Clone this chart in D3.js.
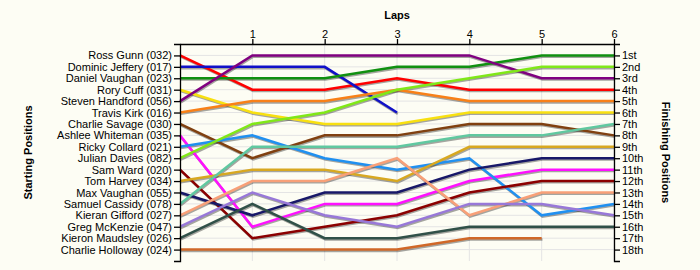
<!DOCTYPE html>
<html>
<head>
<meta charset="utf-8">
<script src="https://cdn.jsdelivr.net/npm/d3@7"></script>
<style>
  body { margin: 0; background: #fdfdf4; }
  svg { display: block; font-family: "Liberation Sans", Arial, sans-serif; }
</style>
</head>
<body>
<svg></svg>
<script>
var drivers = [
  "Ross Gunn (032)", "Dominic Jeffery (017)", "Daniel Vaughan (023)", "Rory Cuff (031)",
  "Steven Handford (056)", "Travis Kirk (016)", "Charlie Savage (030)", "Ashlee Whiteman (035)",
  "Ricky Collard (021)", "Julian Davies (082)", "Sam Ward (020)", "Tom Harvey (034)",
  "Max Vaughan (055)", "Samuel Cassidy (078)", "Kieran Gifford (027)", "Greg McKenzie (047)",
  "Kieron Maudsley (026)", "Charlie Holloway (024)"
];

var colors = [
  "#ff0000", "#1010c8", "#109010", "#f8e010",
  "#800080", "#f88018", "#804010", "#ff10ff",
  "#2090f0", "#80e818", "#8b0000", "#d8a820",
  "#181868", "#60c8a0", "#f8a078", "#9878d8",
  "#305048", "#d06828"
];

// position of each driver at lap 0..6 (null = not running)
var positions = [
  [1, 4, 4, 3, 4, 4, 4],
  [2, 2, 2, 6, null, null, null],
  [3, 3, 3, 2, 2, 1, 1],
  [4, 6, 7, 7, 6, 6, 6],
  [5, 1, 1, 1, 1, 3, 3],
  [6, 5, 5, 4, 5, 5, 5],
  [7, 10, 8, 8, 7, 7, 8],
  [8, 16, 14, 14, 12, 11, 11],
  [9, 8, 10, 11, 10, 15, 14],
  [10, 7, 6, 4, 3, 2, 2],
  [11, 17, 16, 15, 13, 12, 12],
  [12, 11, 11, 12, 9, 9, 9],
  [13, 15, 13, 13, 11, 10, 10],
  [14, 9, 9, 9, 8, 8, 7],
  [15, 12, 12, 10, 15, 13, 13],
  [16, 13, 15, 16, 14, 14, 15],
  [17, 14, 17, 17, 16, 16, 16],
  [18, 18, 18, 18, 17, 17, null]
];

var laps = [1, 2, 3, 4, 5, 6];
var finishLabels = ["1st", "2nd", "3rd", "4th", "5th", "6th", "7th", "8th", "9th",
  "10th", "11th", "12th", "13th", "14th", "15th", "16th", "17th", "18th"];

var width = 700;
var height = 270;
var plotLeft = 180;
var plotRight = 614;
var plotTop = 44;
var plotBottom = 261;

var svg = d3.select("svg").attr("width", width).attr("height", height);

var xScale = d3.scaleLinear().domain([0, 6]).range([plotLeft, plotRight]);
var yScale = d3.scaleLinear().domain([0, 19]).range([plotTop, plotBottom]);
var places = d3.range(1, drivers.length + 1);

/* grid */
svg.append("g")
  .selectAll("line")
  .data(places)
  .enter()
  .append("line")
  .attr("x1", plotLeft)
  .attr("x2", plotRight)
  .attr("y1", (d) => yScale(d))
  .attr("y2", (d) => yScale(d))
  .attr("stroke", "#e4e4e4");

svg.append("g")
  .selectAll("line")
  .data(laps)
  .enter()
  .append("line")
  .attr("x1", (d) => xScale(d))
  .attr("x2", (d) => xScale(d))
  .attr("y1", plotTop)
  .attr("y2", plotBottom)
  .attr("stroke", "#e4e4e4");

/* lines, with a soft shadow under each */
var line = d3.line()
  .defined((d) => d != null)
  .x((d, i) => xScale(i))
  .y((d) => yScale(d));

svg.append("g")
  .attr("transform", "translate(0.8, 1.3)")
  .selectAll("path")
  .data(positions)
  .enter()
  .append("path")
  .attr("d", line)
  .attr("fill", "none")
  .attr("stroke", "rgba(0,0,0,0.35)")
  .attr("stroke-width", 2.5);

svg.append("g")
  .selectAll("path")
  .data(positions)
  .enter()
  .append("path")
  .attr("d", line)
  .attr("fill", "none")
  .attr("stroke", (d, i) => colors[i])
  .attr("stroke-width", 2.5);

/* axes */
var yLeft = d3.axisLeft(yScale)
  .tickValues(places)
  .tickFormat((d) => drivers[d - 1])
  .tickSize(6);
var gl = svg.append("g")
  .attr("transform", "translate(" + plotLeft + ",0)")
  .call(yLeft);

var yRight = d3.axisRight(yScale)
  .tickValues(places)
  .tickFormat((d) => finishLabels[d - 1])
  .tickSize(6);
var gr = svg.append("g")
  .attr("transform", "translate(" + plotRight + ",0)")
  .call(yRight);

var xTop = d3.axisTop(xScale)
  .tickValues(laps)
  .tickFormat(d3.format("d"))
  .tickSize(5)
  .tickSizeOuter(0);
var gt = svg.append("g")
  .attr("transform", "translate(0," + plotTop + ")")
  .call(xTop);

[gl, gr, gt].forEach((g) => {
  g.selectAll("path, line").attr("stroke", "#000").attr("stroke-width", 1.3);
  g.selectAll("text").attr("fill", "#000").style("font-size", "11px");
});
gl.selectAll("text").attr("x", -8);
gr.selectAll("text").attr("x", 8);
gt.selectAll("text").attr("y", -6);

/* titles */
svg.append("text")
  .attr("x", (plotLeft + plotRight) / 2)
  .attr("y", 19)
  .attr("text-anchor", "middle")
  .style("font-size", "11px")
  .style("font-weight", "bold")
  .text("Laps");

svg.append("text")
  .attr("transform", "translate(32," + (plotTop + plotBottom) / 2 + ") rotate(-90)")
  .attr("text-anchor", "middle")
  .style("font-size", "11px")
  .style("font-weight", "bold")
  .text("Starting Positions");

svg.append("text")
  .attr("transform", "translate(662," + (plotTop + plotBottom) / 2 + ") rotate(90)")
  .attr("text-anchor", "middle")
  .style("font-size", "11px")
  .style("font-weight", "bold")
  .text("Finishing Positions");
</script>
</body>
</html>
